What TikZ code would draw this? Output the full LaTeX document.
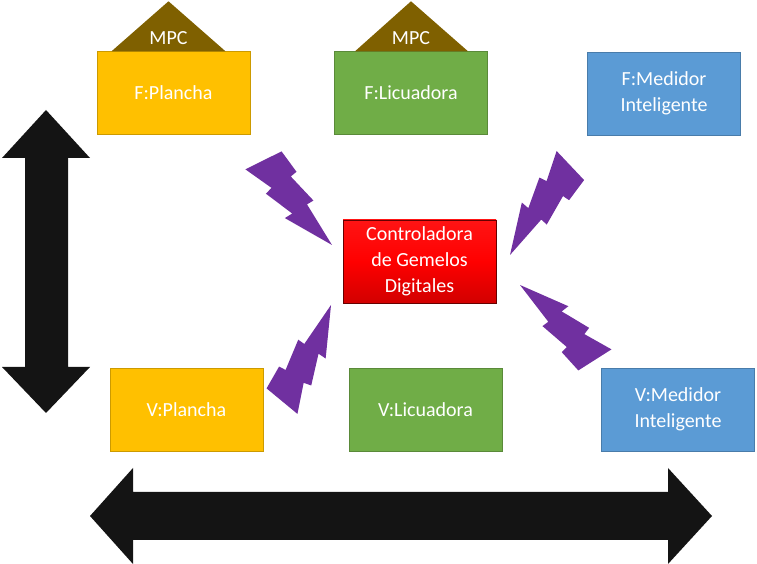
\documentclass[tikz,border=0pt]{standalone}
\usepackage{fontspec}
\setmainfont{Carlito}
\usepackage{xcolor}
\definecolor{oro}{HTML}{FFC000}
\definecolor{verde}{HTML}{70AD47}
\definecolor{azul}{HTML}{5B9BD5}
\definecolor{cafe}{HTML}{7F6000}
\definecolor{morado}{HTML}{7030A0}

\begin{document}
\begin{tikzpicture}[x=1pt, y=1pt,
    caja/.style={minimum width=153pt, minimum height=83pt, inner sep=2pt, align=center,
      text=white, font=\fontsize{20}{26}\selectfont},
    rayo/.style={fill=morado},
    flecha/.style={fill=black!92}]
                \useasboundingbox (0,0) rectangle (757,564);
                % Fisicos (arriba)
                \node[caja, fill=oro, draw=oro!80!black] (fplancha) at (173.5,471) {F:Plancha};
                \node[caja, fill=verde, draw=verde!80!black] (flicuadora) at (411,471) {F:Licuadora};
                \node[caja, fill=azul, draw=azul!80!black] (fmedidor) at (664,470.5) {F:Medidor\\Inteligente};
                % MPC sobre los fisicos
                \fill[cafe] ([xshift=-62pt]fplancha.north) -- ([xshift=-5pt, yshift=50pt]fplancha.north) -- ([xshift=52pt]fplancha.north) -- cycle;
                \node[caja, minimum width=0pt, minimum height=0pt] (mpc1) at ([xshift=-5pt, yshift=13pt]fplancha.north) {MPC};
                \fill[cafe] ([xshift=-56pt]flicuadora.north) -- ([yshift=50pt]flicuadora.north) -- ([xshift=57pt]flicuadora.north) -- cycle;
                \node[caja, minimum width=0pt, minimum height=0pt] (mpc2) at ([yshift=13pt]flicuadora.north) {MPC};
                % Controladora
                \node[caja, top color=red!92!white, bottom color=red!82!black, middle color=red, draw=red!40!black] (ctrl) at (419.5,302.5) {Controladora\\de Gemelos\\Digitales};
                % Virtuales (abajo)
                \node[caja, fill=oro, draw=oro!80!black] (vplancha) at (186.5,154.5) {V:Plancha};
                \node[caja, fill=verde, draw=verde!80!black] (vlicuadora) at (425.5,154.5) {V:Licuadora};
                \node[caja, fill=azul, draw=azul!80!black] (vmedidor) at (678,154.5) {V:Medidor\\Inteligente};
                % Rayos hacia la controladora
                \foreach \tx/\ty/\ang/\len in {332/319/129/110, 510/309/56/109, 331/259/243/109, 520/279/-45/107}
                  \fill[rayo, shift={(\tx,\ty)}, rotate=\ang, scale=\len, yscale=1.12]
                    (0,0) -- (0.43,-0.05) -- (0.42,-0.11) -- (0.72,-0.09) -- (0.72,-0.15) -- (0.95,-0.16)
                    -- (1.03,0.16) -- (0.75,0.09) -- (0.74,0.155) -- (0.45,0.09) -- (0.46,0.16) -- cycle;
                % Flechas dobles
                \fill[flecha] (46,454) -- (90,406) -- (68,406) -- (68,197) -- (90,197) -- (46,151)
                  -- (2,197) -- (25,197) -- (25,406) -- (2,406) -- cycle;
                \fill[flecha] (90,48) -- (133,96) -- (133,72) -- (668,72) -- (668,96) -- (712,48)
                  -- (668,0) -- (668,24) -- (133,24) -- (133,0) -- cycle;
            \end{tikzpicture}
\end{document}
